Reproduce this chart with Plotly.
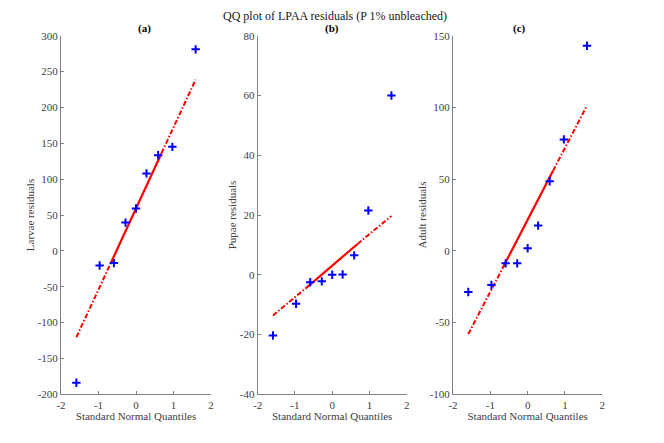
import plotly.graph_objects as go

quantiles = [-1.59, -0.97, -0.59, -0.28, 0.0, 0.28, 0.59, 0.97, 1.59]

larvae = [-184, -20.4, -17.1, 39.4, 59, 108, 133.3, 145, 281]
pupae = [-20.3, -9.7, -2.5, -2.2, 0.0, 0.1, 6.5, 21.5, 60]
adult = [-28.7, -23.8, -8.7, -8.7, 1.8, 17.6, 48.5, 77.7, 143]

# reference line x positions (ends and quartiles) and y values
line_x = [-1.59, -0.68, 0.68, 1.59]
larvae_line = [-120.4, -17.9, 136.2, 238.7]
pupae_line = [-13.6, -4.2, 10.3, 19.7]
adult_line = [-58, -12.5, 55.8, 101.3]

panel_titles = ["<b>(a)</b>", "<b>(b)</b>", "<b>(c)</b>"]
y_titles = ["Larvae residuals", "Pupae residuals", "Adult residuals"]
y_ticks = [[-200, -150, -100, -50, 0, 50, 100, 150, 200, 250, 300],
           [-40, -20, 0, 20, 40, 60, 80],
           [-100, -50, 0, 50, 100, 150]]
x_ticks = [-2, -1, 0, 1, 2]

W, H = 664, 443
OFF = 8  # page body margin


def px(p):
    return (p - OFF) / W


def py(p):
    return 1 - (p - OFF) / H


x_doms = [[px(61), px(211)], [px(257.7), px(406.7)], [px(453), px(602.3)]]
y_dom = [py(394.3), py(35.7)]

font = "Times New Roman, Liberation Serif, DejaVu Serif, serif"
fig = go.Figure()

data = [larvae, pupae, adult]
lines = [larvae_line, pupae_line, adult_line]
for i in range(3):
    xa = "x" if i == 0 else "x%d" % (i + 1)
    ya = "y" if i == 0 else "y%d" % (i + 1)
    ly = lines[i]
    # dash-dot extensions
    fig.add_trace(go.Scatter(x=line_x[:2], y=ly[:2], mode="lines", xaxis=xa, yaxis=ya,
                             line=dict(color="red", width=2, dash="5px,2px,1.5px,2px"), showlegend=False))
    fig.add_trace(go.Scatter(x=line_x[2:], y=ly[2:], mode="lines", xaxis=xa, yaxis=ya,
                             line=dict(color="red", width=2, dash="5px,2px,1.5px,2px"), showlegend=False))
    # solid between quartiles
    fig.add_trace(go.Scatter(x=line_x[1:3], y=ly[1:3], mode="lines", xaxis=xa, yaxis=ya,
                             line=dict(color="red", width=2.2), showlegend=False))
    fig.add_trace(go.Scatter(x=quantiles, y=data[i], mode="markers", xaxis=xa, yaxis=ya,
                             marker=dict(symbol="cross-thin-open", size=6, color="blue",
                                         line=dict(color="blue", width=2)),
                             showlegend=False))

    axis_style = dict(showline=True, linecolor="#808080", linewidth=1, ticks="inside",
                      ticklen=3, tickcolor="#808080", showgrid=False, zeroline=False,
                      automargin=False,
                      tickfont=dict(family=font, size=11, color="#404040"))
    yt = y_ticks[i]
    fig.update_layout(**{
        ("xaxis" if i == 0 else "xaxis%d" % (i + 1)): dict(
            domain=x_doms[i], range=[-2, 2], anchor=ya,
            tickvals=x_ticks, ticktext=[str(v) for v in x_ticks],
            title=dict(text="Standard Normal Quantiles", standoff=2,
                       font=dict(family=font, size=11, color="#404040")),
            **axis_style),
        ("yaxis" if i == 0 else "yaxis%d" % (i + 1)): dict(
            domain=y_dom, range=[yt[0], yt[-1]], anchor=xa,
            tickvals=yt, ticktext=[str(v) for v in yt],
            title=dict(text=y_titles[i], standoff=0,
                       font=dict(family=font, size=11, color="#404040")),
            **axis_style),
    })
    fig.add_annotation(text=panel_titles[i], x=(x_doms[i][0] + x_doms[i][1]) / 2, y=py(29),
                       xref="paper", yref="paper", showarrow=False, yanchor="middle",
                       font=dict(family=font, size=11, color="black"))

fig.add_annotation(text="QQ plot of LPAA residuals (P 1% unbleached)", x=px(335), y=1,
                   xref="paper", yref="paper", showarrow=False, yanchor="top", borderpad=0,
                   font=dict(family=font, size=12, color="#202020"))

fig.update_layout(width=W, height=H, margin=dict(l=0, r=0, t=0, b=0),
                  paper_bgcolor="white", plot_bgcolor="white",
                  font=dict(family=font))

fig.write_html("out.html")
